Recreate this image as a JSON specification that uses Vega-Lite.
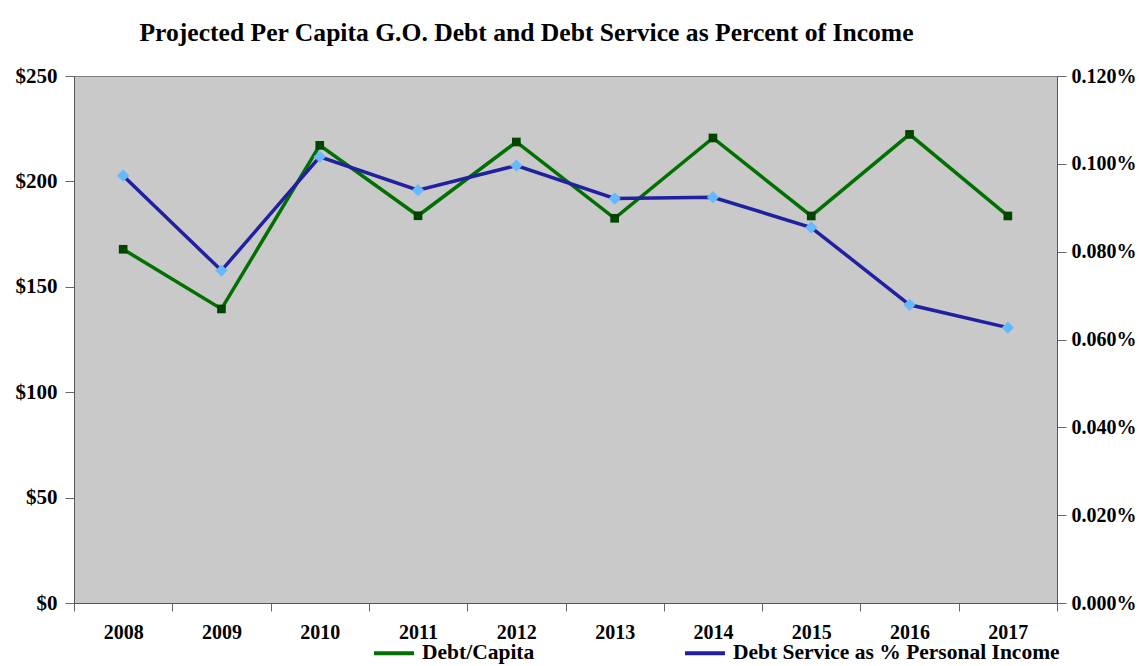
{
  "$schema": "https://vega.github.io/schema/vega-lite/v6.json",
  "width": 983,
  "height": 527,
  "autosize": "none",
  "padding": {"left": 74, "top": 76, "right": 82, "bottom": 63},
  "background": "white",
  "title": {
    "text": "Projected Per Capita G.O. Debt and Debt Service as Percent of Income",
    "font": "Liberation Serif",
    "fontSize": 25.6,
    "fontWeight": "bold",
    "color": "black",
    "anchor": "middle",
    "dx": -39,
    "dy": 10,
    "offset": 28
  },
  "config": {
    "view": {"fill": "#C9C9C9", "stroke": "#7f7f7f", "strokeWidth": 1},
    "axis": {
      "labelFont": "Liberation Serif",
      "labelFontWeight": "bold",
      "labelFontSize": 20,
      "labelColor": "black",
      "domainColor": "#666666",
      "tickColor": "#666666",
      "grid": false,
      "title": null
    }
  },
  "data": {
    "values": [
      {"year": "2008", "debt": 167.8, "pct": 0.000973},
      {"year": "2009", "debt": 139.5, "pct": 0.000757},
      {"year": "2010", "debt": 217.1, "pct": 0.001016},
      {"year": "2011", "debt": 183.7, "pct": 0.000940},
      {"year": "2012", "debt": 218.7, "pct": 0.000996},
      {"year": "2013", "debt": 182.5, "pct": 0.000921},
      {"year": "2014", "debt": 220.6, "pct": 0.000924},
      {"year": "2015", "debt": 183.6, "pct": 0.000855},
      {"year": "2016", "debt": 222.3, "pct": 0.000679},
      {"year": "2017", "debt": 183.6, "pct": 0.000627}
    ]
  },
  "encoding": {
    "x": {
      "field": "year",
      "type": "ordinal",
      "scale": {"type": "band", "paddingInner": 0, "paddingOuter": 0},
      "axis": {"labelAngle": 0, "tickBand": "extent", "tickSize": 8, "labelPadding": 11, "domainColor": "#555555"}
    }
  },
  "layer": [
    {
      "encoding": {
        "y": {
          "field": "debt",
          "type": "quantitative",
          "scale": {"domain": [0, 250], "nice": false},
          "axis": {"orient": "left", "values": [0, 50, 100, 150, 200, 250], "format": "$.0f", "tickSize": 9, "labelPadding": 8, "labelFontSize": 21, "domainColor": "#555555"}
        }
      },
      "layer": [
        {
          "mark": {"type": "line", "strokeWidth": 3.5},
          "encoding": {
            "color": {
              "datum": "Debt/Capita",
              "type": "nominal",
              "scale": {"domain": ["Debt/Capita", "Debt Service as % Personal Income"], "range": ["#007000", "#2020A0"]},
              "legend": {
                "orient": "none",
                "legendX": 298,
                "legendY": 555,
                "direction": "horizontal",
                "title": null,
                "symbolType": "stroke",
                "symbolSize": 1600,
                "symbolStrokeWidth": 4,
                "labelFont": "Liberation Serif",
                "labelFontWeight": "bold",
                "labelFontSize": 21.5,
                "labelColor": "black",
                "labelLimit": 500,
                "columnPadding": 142,
                "labelOffset": 6
              }
            }
          }
        },
        {
          "mark": {"type": "point", "shape": "square", "filled": true, "opacity": 1, "size": 75, "color": "#004400"}
        }
      ]
    },
    {
      "encoding": {
        "y": {
          "field": "pct",
          "type": "quantitative",
          "scale": {"domain": [0, 0.0012], "nice": false},
          "axis": {"orient": "right", "values": [0, 0.0002, 0.0004, 0.0006, 0.0008, 0.001, 0.0012], "format": ".3%", "tickSize": 9, "labelPadding": 5, "domainColor": "#555555"}
        }
      },
      "layer": [
        {
          "mark": {"type": "line", "strokeWidth": 3.5},
          "encoding": {"color": {"datum": "Debt Service as % Personal Income", "type": "nominal"}}
        },
        {
          "mark": {"type": "point", "shape": "diamond", "filled": true, "opacity": 1, "size": 150, "color": "#66B8FF"}
        }
      ]
    }
  ],
  "resolve": {"scale": {"y": "independent"}}
}
